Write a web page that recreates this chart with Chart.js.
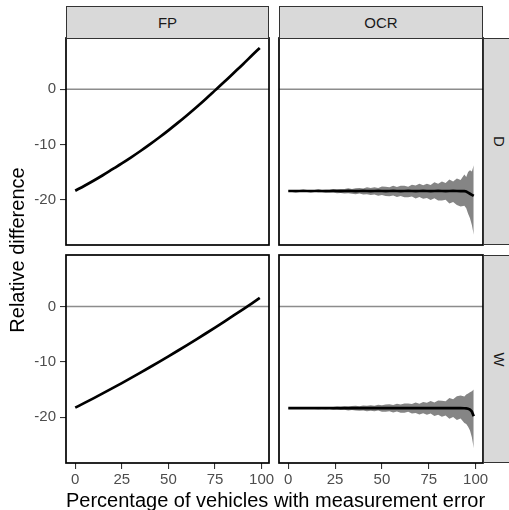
<!DOCTYPE html>
<html><head><meta charset="utf-8">
<script src="https://cdn.jsdelivr.net/npm/chart.js@4.4.0/dist/chart.umd.min.js"></script>
<style>
html,body{margin:0;padding:0;background:#fff;overflow:hidden;width:509px;height:510px;}
body{position:relative;font-family:"Liberation Sans",Arial,sans-serif;}
canvas{position:absolute;}
.strip{position:absolute;background:#d9d9d9;border:1px solid #333;box-sizing:border-box;color:#1a1a1a;font-size:15px;display:flex;align-items:center;justify-content:center;}
.strip span{display:block;white-space:nowrap;}
.rot span{transform:rotate(90deg);}
.title{position:absolute;color:#000;font-size:20px;line-height:20px;white-space:nowrap;text-align:center;}
</style></head>
<body>
<canvas id="c00"></canvas>
<canvas id="c01"></canvas>
<canvas id="c10"></canvas>
<canvas id="c11"></canvas>
<div class="strip" style="left:66px;top:6px;width:203px;height:33px;"><span id="s0"></span></div>
<div class="strip" style="left:279px;top:6px;width:204px;height:33px;"><span id="s1"></span></div>
<div class="strip rot" style="left:483px;top:38px;width:32px;height:207px;"><span id="r0"></span></div>
<div class="strip rot" style="left:483px;top:255px;width:32px;height:208px;"><span id="r1"></span></div>
<div class="title" id="xt" style="left:66px;top:490px;width:417px;"></div>
<div class="title" id="yt" style="left:-133px;top:240px;width:300px;height:20px;transform:rotate(-90deg);"></div>
<script>
// ---------- data ----------
const colLabels = ['FP', 'OCR'];
const rowLabels = ['D', 'W'];
const xTitle = 'Percentage of vehicles with measurement error';
const yTitle = 'Relative difference';
const xTicks = [0, 25, 50, 75, 100];
const yTicks = [-20, -10, 0];
const refLine = 0;

const fpX = [0,5,10,15,20,25,30,35,40,45,50,55,60,65,70,75,80,85,90,95,99];
const fpD = [-18.4,-17.5,-16.55,-15.55,-14.5,-13.45,-12.35,-11.2,-10.0,-8.75,-7.45,-6.1,-4.7,-3.25,-1.75,-0.2,1.35,2.95,4.55,6.2,7.5];
const fpW = [-18.26,-17.4,-16.53,-15.64,-14.74,-13.82,-12.89,-11.94,-10.97,-9.99,-9.0,-7.99,-6.97,-5.93,-4.87,-3.8,-2.71,-1.61,-0.5,0.63,1.55];

const ocrX = [0,2,4,6,8,10,12,14,16,18,20,22,24,26,28,30,32,34,36,38,40,42,44,46,48,50,52,54,56,58,60,62,64,66,68,70,72,74,76,78,80,82,84,86,88,90,92,94,95,96,97,98,99];
const ocrDMean = [-18.45,-18.45,-18.46,-18.45,-18.44,-18.45,-18.46,-18.45,-18.44,-18.45,-18.46,-18.45,-18.44,-18.45,-18.46,-18.45,-18.44,-18.45,-18.46,-18.45,-18.44,-18.45,-18.46,-18.45,-18.44,-18.45,-18.46,-18.45,-18.44,-18.45,-18.46,-18.45,-18.44,-18.45,-18.46,-18.45,-18.44,-18.45,-18.46,-18.45,-18.44,-18.45,-18.46,-18.45,-18.44,-18.45,-18.46,-18.47,-18.55,-18.75,-18.95,-19.15,-19.35];
const ocrDHigh = [-18.40,-18.38,-18.38,-18.35,-18.35,-18.32,-18.33,-18.28,-18.23,-18.27,-18.21,-18.25,-18.13,-18.13,-18.07,-18.11,-17.96,-18.08,-17.97,-17.91,-17.98,-17.78,-17.89,-17.76,-17.92,-17.65,-17.67,-17.76,-17.48,-17.74,-17.48,-17.48,-17.68,-17.30,-17.46,-17.15,-17.42,-17.13,-17.38,-16.87,-17.14,-16.74,-17.01,-16.37,-16.75,-16.20,-16.45,-15.48,-15.9,-15.0,-14.7,-14.9,-13.8];
const ocrDLow = [-18.51,-18.51,-18.55,-18.55,-18.59,-18.57,-18.62,-18.60,-18.66,-18.70,-18.67,-18.75,-18.74,-18.87,-18.80,-18.93,-18.86,-18.96,-19.05,-18.92,-19.07,-19.04,-19.19,-19.08,-19.31,-19.19,-19.34,-19.41,-19.26,-19.54,-19.37,-19.60,-19.60,-19.45,-19.80,-19.53,-19.88,-19.71,-20.09,-19.77,-20.18,-20.16,-20.05,-20.70,-20.43,-21.01,-21.27,-21.15,-21.6,-22.6,-23.4,-24.6,-26.4];
const ocrWMean = [-18.35,-18.35,-18.36,-18.35,-18.34,-18.35,-18.36,-18.35,-18.34,-18.35,-18.36,-18.35,-18.34,-18.35,-18.36,-18.35,-18.34,-18.35,-18.36,-18.35,-18.34,-18.35,-18.36,-18.35,-18.34,-18.35,-18.36,-18.35,-18.34,-18.35,-18.36,-18.35,-18.34,-18.35,-18.36,-18.35,-18.34,-18.35,-18.36,-18.35,-18.34,-18.35,-18.36,-18.35,-18.34,-18.35,-18.36,-18.37,-18.4,-18.45,-18.6,-18.95,-19.8];
const ocrWHigh = [-18.30,-18.30,-18.27,-18.27,-18.25,-18.26,-18.22,-18.24,-18.19,-18.17,-18.19,-18.13,-18.13,-18.05,-18.10,-18.01,-18.06,-17.98,-17.91,-18.01,-17.89,-17.92,-17.81,-17.90,-17.73,-17.83,-17.71,-17.65,-17.77,-17.55,-17.69,-17.50,-17.49,-17.61,-17.32,-17.54,-17.25,-17.38,-17.05,-17.32,-16.97,-16.99,-17.09,-16.51,-16.74,-16.22,-16.06,-16.24,-15.9,-15.7,-15.5,-15.3,-15.0];
const ocrWLow = [-18.40,-18.42,-18.42,-18.45,-18.44,-18.47,-18.46,-18.49,-18.54,-18.50,-18.56,-18.52,-18.63,-18.61,-18.67,-18.64,-18.75,-18.67,-18.76,-18.81,-18.75,-18.91,-18.82,-18.93,-18.79,-19.01,-18.99,-18.93,-19.15,-18.95,-19.16,-19.16,-19.01,-19.33,-19.21,-19.48,-19.26,-19.52,-19.32,-19.78,-19.55,-19.91,-19.68,-20.26,-19.96,-20.48,-20.22,-21.05,-21.2,-21.7,-22.4,-23.6,-25.6];

// ---------- layout / style ----------
const FONT = '"Liberation Sans", Arial, sans-serif';
const X_MIN = -4.95, X_MAX = 103.95, Y_MIN = -28.25, Y_MAX = 9.3;

document.getElementById('s0').textContent = colLabels[0];
document.getElementById('s1').textContent = colLabels[1];
document.getElementById('r0').textContent = rowLabels[0];
document.getElementById('r1').textContent = rowLabels[1];
document.getElementById('xt').textContent = xTitle;
document.getElementById('yt').textContent = yTitle;

const pts = (xs, ys) => xs.map((x, i) => ({x: x, y: ys[i]}));

const frame = {
  id: 'frame',
  afterDatasetsDraw(chart) {
    const {ctx, chartArea: a} = chart;
    ctx.save();
    ctx.strokeStyle = '#000';
    ctx.lineWidth = 1.7;
    ctx.strokeRect(a.left, a.top, a.right - a.left, a.bottom - a.top);
    ctx.restore();
  }
};

function makePanel(id, box, pad, showX, showY, datasets) {
  const cv = document.getElementById(id);
  cv.width = box.w; cv.height = box.h;
  cv.style.left = box.l + 'px'; cv.style.top = box.t + 'px';
  cv.style.width = box.w + 'px'; cv.style.height = box.h + 'px';
  const tickFont = {family: FONT, size: 15};
  const xs = {
    type: 'linear', min: X_MIN, max: X_MAX, display: showX,
    afterBuildTicks: s => { s.ticks = xTicks.map(v => ({value: v})); },
    grid: {display: true, drawOnChartArea: false, drawTicks: true, tickLength: 6, color: '#333', lineWidth: 1.1},
    border: {display: false},
    ticks: {color: '#4d4d4d', font: tickFont, padding: 2, maxRotation: 0, autoSkip: false}
  };
  if (showX) xs.afterFit = s => { s.height = 47; };
  const ys = {
    type: 'linear', min: Y_MIN, max: Y_MAX, display: showY,
    afterBuildTicks: s => { s.ticks = yTicks.map(v => ({value: v})); },
    grid: {display: true, drawOnChartArea: false, drawTicks: true, tickLength: 6, color: '#333', lineWidth: 1.1},
    border: {display: false},
    ticks: {color: '#4d4d4d', font: tickFont, padding: 4}
  };
  if (showY) ys.afterFit = s => { s.width = 66; };
  new Chart(cv, {
    type: 'line',
    data: {datasets: datasets},
    options: {
      responsive: false, animation: false, devicePixelRatio: 1,
      layout: {padding: pad},
      plugins: {legend: {display: false}, tooltip: {enabled: false}},
      elements: {point: {radius: 0}},
      scales: {x: xs, y: ys}
    },
    plugins: [frame]
  });
}

function refDataset() {
  return {data: [{x: X_MIN, y: refLine}, {x: X_MAX, y: refLine}], borderColor: '#8c8c8c', borderWidth: 1.3, pointRadius: 0, fill: false};
}
function fpSets(ys) {
  return [
    {data: pts(fpX, ys), borderColor: '#000', borderWidth: 2.7, pointRadius: 0, fill: false, cubicInterpolationMode: 'monotone'},
    refDataset()
  ];
}
function ocrSets(mean, hi, lo) {
  return [
    {data: pts(ocrX, mean), borderColor: '#000', borderWidth: 2.7, pointRadius: 0, fill: false, tension: 0},
    refDataset(),
    {data: pts(ocrX, hi), borderColor: 'rgba(0,0,0,0)', borderWidth: 0, pointRadius: 0, backgroundColor: '#858585', fill: '+1', tension: 0},
    {data: pts(ocrX, lo), borderColor: 'rgba(0,0,0,0)', borderWidth: 0, pointRadius: 0, fill: false, tension: 0}
  ];
}

makePanel('c00', {l: 0, t: 20, w: 279, h: 245}, {top: 18, right: 10, bottom: 20, left: 0}, false, true, fpSets(fpD));
makePanel('c01', {l: 270, t: 20, w: 239, h: 245}, {top: 18, right: 26, bottom: 20, left: 9}, false, false, ocrSets(ocrDMean, ocrDHigh, ocrDLow));
makePanel('c10', {l: 0, t: 237, w: 279, h: 273}, {top: 18, right: 10, bottom: 0, left: 0}, true, true, fpSets(fpW));
makePanel('c11', {l: 270, t: 237, w: 239, h: 273}, {top: 18, right: 26, bottom: 0, left: 9}, true, false, ocrSets(ocrWMean, ocrWHigh, ocrWLow));
</script>
</body></html>
